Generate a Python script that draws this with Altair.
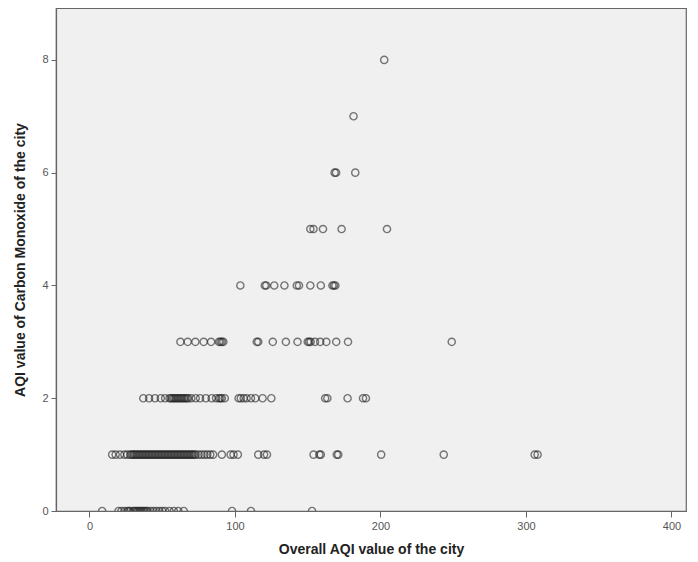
import altair as alt
import pandas as pd

# Overall AQI (x) values for each Carbon Monoxide AQI level (y)
co_0 = [8.7, 20, 22, 24, 26, 27, 28, 30, 31, 32, 33, 34, 35, 36, 37, 38, 39, 40,
        42, 44, 46, 48, 50, 52, 55, 58, 61, 64.8, 98, 111, 153]
co_1 = [15.6, 18, 21, 24, 26, 28, 29, 30, 31, 32, 33, 34, 35, 36, 37, 38, 39, 40,
        41, 42, 43, 44, 45, 46, 47, 48, 49, 50, 51, 52, 53, 54, 55, 56, 57, 58, 59,
        60, 61, 62, 63, 64, 65, 66, 67, 68, 69, 70, 71, 72, 73, 75, 77, 79, 81, 83,
        85, 91, 97, 99, 102, 116, 120, 122, 154, 158, 159, 170, 171, 200.5, 243.5,
        306, 308]
co_2 = [37, 41, 45, 49, 52, 55, 56, 57, 58, 59, 60, 61, 62, 63, 64, 65, 66, 67, 68,
        70, 73, 76, 80, 84, 87, 89, 90, 91, 93, 102.5, 104, 106, 108, 111, 114,
        119, 125, 162, 163.5, 177.4, 188, 190]
co_3 = [62.5, 67.5, 72.8, 78.5, 83.6, 89, 90, 91, 92, 115, 116, 126, 135, 143,
        150, 151, 152, 155, 158.6, 162.8, 169.6, 177.7, 249]
co_4 = [103.7, 120.5, 121.5, 127, 134, 142.5, 144, 151.8, 159, 167, 168, 169]
co_5 = [151.8, 154, 160.5, 173.3, 204.5]
co_6 = [168.5, 169.5, 182.7]
co_7 = [181.5]
co_8 = [202.6]

levels = [co_0, co_1, co_2, co_3, co_4, co_5, co_6, co_7, co_8]
rows = []
for lvl, xs in enumerate(levels):
    for v in xs:
        rows.append({"overall": v, "co": lvl})
df = pd.DataFrame(rows)

x_ticks = [0, 100, 200, 300, 400]
y_ticks = [0, 2, 4, 6, 8]

font = "Liberation Sans"

chart = alt.Chart(df).mark_point(
    shape="circle", filled=False, size=52, stroke="#222222",
    strokeWidth=1.4, strokeOpacity=0.85, clip=True
).encode(
    x=alt.X("overall:Q", title="Overall AQI value of the city",
            scale=alt.Scale(domain=[-23, 410], nice=False, zero=False),
            axis=alt.Axis(values=x_ticks, grid=False, tickSize=6, labelPadding=3,
                          titlePadding=11)),
    y=alt.Y("co:Q", title="AQI value of Carbon Monoxide of the city",
            scale=alt.Scale(domain=[0, 8.92], nice=False),
            axis=alt.Axis(values=y_ticks, grid=False, tickSize=5, labelPadding=3,
                          titlePadding=14)),
).properties(
    width=630, height=503,
    autosize=alt.AutoSizeParams(type="none"),
    padding={"left": 48, "top": 0, "right": 4, "bottom": 46},
).configure_view(
    fill="#f0f0f0", stroke="#666666", strokeWidth=1.2
).configure_axis(
    domainColor="#666666", tickColor="#666666", domainWidth=1.2,
    labelColor="#555555", labelFont=font, labelFontSize=11,
    titleColor="#222222", titleFont=font, titleFontSize=14, titleFontWeight="bold",
)

chart.save("out.html", embed_options={"renderer": "svg", "actions": False})
